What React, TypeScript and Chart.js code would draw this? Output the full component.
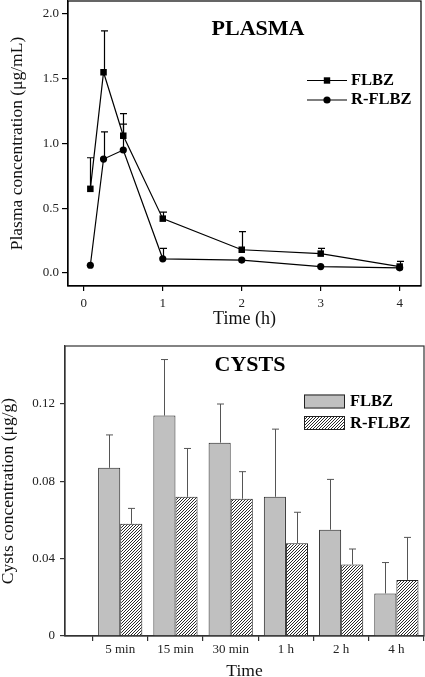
import React, { useEffect, useRef } from 'react';
import { Chart, registerables } from 'chart.js';

Chart.register(...registerables);

// ---------- DATA ----------
const plasmaTimes = [0.083, 0.25, 0.5, 1, 2, 3, 4];
const plasmaFlbz = [0.65, 1.55, 1.06, 0.42, 0.18, 0.15, 0.05];
const plasmaFlbzSd = [0.24, 0.32, 0.17, 0.05, 0.14, 0.04, 0.04];
const plasmaRflbz = [0.06, 0.88, 0.95, 0.11, 0.1, 0.05, 0.04];
const plasmaRflbzSd = [0, 0.21, 0.2, 0.08, 0, 0, 0];
const plasmaXTicks = [0, 1, 2, 3, 4];
const plasmaYTicks = [0, 0.5, 1, 1.5, 2];

const cystCategories = ['5 min', '15 min', '30 min', '1 h', '2 h', '4 h'];
const cystFlbz = [0.087, 0.114, 0.1, 0.072, 0.055, 0.022];
const cystFlbzSd = [0.017, 0.029, 0.02, 0.035, 0.026, 0.016];
const cystRflbz = [0.058, 0.072, 0.071, 0.048, 0.037, 0.029];
const cystRflbzSd = [0.008, 0.025, 0.014, 0.016, 0.008, 0.022];
const cystYTicks = [0, 0.04, 0.08, 0.12];
const cystXTicks = [-1, 0, 1, 2, 3, 4, 5];

const seriesNames = ['FLBZ', 'R-FLBZ'];

// ---------- HELPERS ----------
const serif = "'Liberation Serif', 'Times New Roman', serif";

const fixAxis = (size: number, horizontal: boolean) => (scale: any) => {
  if (horizontal) scale.height = size;
  else scale.width = size;
  scale.paddingTop = 0;
  scale.paddingBottom = 0;
  scale.paddingLeft = 0;
  scale.paddingRight = 0;
};

function makeHatch(): CanvasPattern | string {
  const c = document.createElement('canvas');
  c.width = 3;
  c.height = 3;
  const g = c.getContext('2d');
  if (!g) return '#888';
  g.fillStyle = '#ffffff';
  g.fillRect(0, 0, 3, 3);
  g.strokeStyle = '#111';
  g.lineWidth = 0.9;
  g.beginPath();
  g.moveTo(-1, 4);
  g.lineTo(4, -1);
  g.moveTo(-1, 1);
  g.lineTo(1, -1);
  g.moveTo(2, 4);
  g.lineTo(4, 2);
  g.stroke();
  return g.createPattern(c, 'repeat') || '#888';
}

const errorBarPlugin = {
  id: 'errorBars',
  afterDatasetsDraw(chart: any) {
    const ctx = chart.ctx;
    const yScale = chart.scales.y;
    chart.data.datasets.forEach((ds: any, i: number) => {
      const errs: number[] | undefined = ds.errors;
      if (!errs) return;
      const meta = chart.getDatasetMeta(i);
      ctx.save();
      ctx.strokeStyle = ds.errorColor || '#000';
      ctx.lineWidth = ds.errorWidth || 1;
      const cap = ds.errorCap || 3.5;
      meta.data.forEach((el: any, j: number) => {
        const raw = ds.data[j];
        const v = typeof raw === 'number' ? raw : raw.y;
        const sd = errs[j];
        if (!sd) return;
        const yTop = yScale.getPixelForValue(v + sd);
        const x = Math.round(el.x) + 0.5;
        ctx.beginPath();
        ctx.moveTo(x, el.y);
        ctx.lineTo(x, yTop);
        ctx.moveTo(x - cap, yTop);
        ctx.lineTo(x + cap, yTop);
        ctx.stroke();
      });
      ctx.restore();
    });
  },
};

const decorPlugin = {
  id: 'decor',
  afterDraw(chart: any, _args: any, opts: any) {
    const ctx = chart.ctx;
    const a = chart.chartArea;
    ctx.save();
    // frame
    ctx.strokeStyle = opts.frameColor;
    ctx.lineWidth = opts.frameWidth;
    ctx.strokeRect(a.left, a.top, a.right - a.left, a.bottom - a.top);
    // title
    ctx.fillStyle = '#000';
    ctx.font = `bold 22px ${serif}`;
    ctx.textAlign = 'center';
    ctx.textBaseline = 'middle';
    ctx.fillText(opts.title, opts.titleX, opts.titleY);
    // legend
    const lg = opts.legend;
    chart.data.datasets.forEach((ds: any, i: number) => {
      const y = lg.rows[i];
      if (lg.kind === 'line') {
        ctx.strokeStyle = ds.borderColor;
        ctx.lineWidth = 1.2;
        ctx.beginPath();
        ctx.moveTo(lg.x0, y);
        ctx.lineTo(lg.x1, y);
        ctx.stroke();
        const cx = (lg.x0 + lg.x1) / 2;
        ctx.fillStyle = ds.backgroundColor;
        if (ds.pointStyle === 'rect') {
          ctx.fillRect(cx - 3.2, y - 3.2, 6.4, 6.4);
        } else {
          ctx.beginPath();
          ctx.arc(cx, y, 3.6, 0, Math.PI * 2);
          ctx.fill();
        }
      } else {
        ctx.fillStyle = ds.backgroundColor;
        ctx.fillRect(lg.x0, y - lg.h / 2, lg.x1 - lg.x0, lg.h);
        ctx.strokeStyle = '#222';
        ctx.lineWidth = 1;
        ctx.strokeRect(lg.x0 + 0.5, y - lg.h / 2 + 0.5, lg.x1 - lg.x0 - 1, lg.h - 1);
      }
      ctx.fillStyle = '#000';
      ctx.font = `bold 16.5px ${serif}`;
      ctx.textAlign = 'left';
      ctx.textBaseline = 'middle';
      ctx.fillText(ds.label, lg.textX, lg.textRows[i]);
    });
    ctx.restore();
  },
};

// ---------- CHARTS ----------
function PlasmaChart() {
  const ref = useRef<HTMLCanvasElement | null>(null);
  useEffect(() => {
    if (!ref.current) return;
    const chart = new Chart(ref.current, {
      type: 'line',
      data: {
        datasets: [
          {
            label: seriesNames[0],
            data: plasmaTimes.map((t, i) => ({ x: t, y: plasmaFlbz[i] })),
            borderColor: '#000',
            backgroundColor: '#000',
            borderWidth: 1.2,
            pointStyle: 'rect',
            pointRadius: 4.6,
            pointBorderWidth: 0,
            errors: plasmaFlbzSd,
            errorColor: '#000',
            errorWidth: 1.2,
            errorCap: 3.5,
          } as any,
          {
            label: seriesNames[1],
            data: plasmaTimes.map((t, i) => ({ x: t, y: plasmaRflbz[i] })),
            borderColor: '#000',
            backgroundColor: '#000',
            borderWidth: 1.2,
            pointStyle: 'circle',
            pointRadius: 3.6,
            pointBorderWidth: 0,
            errors: plasmaRflbzSd,
            errorColor: '#000',
            errorWidth: 1.2,
            errorCap: 3.5,
          } as any,
        ],
      },
      options: {
        animation: false,
        responsive: false,
        devicePixelRatio: 1,
        layout: { padding: { left: 0, right: 4, top: 1, bottom: 0 }, autoPadding: false } as any,
        plugins: {
          legend: { display: false },
          tooltip: { enabled: false },
          decor: {
            frameColor: '#000',
            frameWidth: 1.2,
            title: 'PLASMA',
            titleX: 258,
            titleY: 29,
            legend: { kind: 'line', x0: 307, x1: 347, rows: [80.5, 100], textX: 351, textRows: [80.5, 100] },
          },
        } as any,
        scales: {
          x: {
            type: 'linear',
            min: -0.2,
            max: 4.27,
            afterBuildTicks: (s: any) => {
              s.ticks = plasmaXTicks.map((v) => ({ value: v }));
            },
            afterFit: fixAxis(54, true),
            ticks: {
              color: '#222',
              font: { family: serif, size: 13 },
              padding: 5,
              maxRotation: 0,
              callback: (v: any) => String(v),
            },
            grid: { drawOnChartArea: false, drawTicks: true, tickLength: 5, color: '#000', lineWidth: 1.2 },
            border: { display: true, color: '#000', width: 1.2 },
            title: {
              display: true,
              text: 'Time (h)',
              color: '#111',
              font: { family: serif, size: 18, lineHeight: 1 },
              padding: { top: 0, bottom: 11.5 },
            },
          },
          y: {
            type: 'linear',
            min: -0.1,
            max: 2.1,
            afterBuildTicks: (s: any) => {
              s.ticks = plasmaYTicks.map((v) => ({ value: v }));
            },
            afterFit: fixAxis(68, false),
            ticks: {
              color: '#222',
              font: { family: serif, size: 13 },
              padding: 3,
              callback: (v: any) => Number(v).toFixed(1),
            },
            grid: { drawOnChartArea: false, drawTicks: true, tickLength: 6, color: '#000', lineWidth: 1.2 },
            border: { display: true, color: '#000', width: 1.2 },
            title: {
              display: true,
              text: 'Plasma concentration (μg/mL)',
              color: '#111',
              font: { family: serif, size: 17.5, lineHeight: 1 },
              padding: { top: 8.5, bottom: 0 },
            },
          },
        },
      },
      plugins: [errorBarPlugin as any, decorPlugin as any],
    });
    return () => chart.destroy();
  }, []);
  return <canvas ref={ref} width={425} height={340} style={{ position: 'absolute', left: 0, top: 0 }} />;
}

function CystsChart() {
  const ref = useRef<HTMLCanvasElement | null>(null);
  useEffect(() => {
    if (!ref.current) return;
    const hatch = makeHatch();
    const chart = new Chart(ref.current, {
      type: 'bar',
      data: {
        datasets: [
          {
            label: seriesNames[0],
            data: cystCategories.map((_, i) => ({ x: i, y: cystFlbz[i] })),
            backgroundColor: '#c0c0c0',
            borderColor: '#222',
            borderWidth: 1,
            borderSkipped: 'start',
            categoryPercentage: 0.8,
            barPercentage: 1,
            errors: cystFlbzSd,
            errorColor: '#555',
            errorWidth: 1,
            errorCap: 3.5,
          } as any,
          {
            label: seriesNames[1],
            data: cystCategories.map((_, i) => ({ x: i, y: cystRflbz[i] })),
            backgroundColor: hatch,
            borderColor: '#222',
            borderWidth: 1,
            borderSkipped: 'start',
            categoryPercentage: 0.8,
            barPercentage: 1,
            errors: cystRflbzSd,
            errorColor: '#555',
            errorWidth: 1,
            errorCap: 3.5,
          } as any,
        ],
      },
      options: {
        animation: false,
        responsive: false,
        devicePixelRatio: 1,
        layout: { padding: { left: 0, right: 1, top: 6, bottom: 0 }, autoPadding: false } as any,
        plugins: {
          legend: { display: false },
          tooltip: { enabled: false },
          decor: {
            frameColor: '#333',
            frameWidth: 1.2,
            title: 'CYSTS',
            titleX: 250,
            titleY: 25,
            legend: { kind: 'box', x0: 304, x1: 345, h: 14, rows: [61.5, 83], textX: 350, textRows: [61.7, 83.3] },
          },
        } as any,
        scales: {
          x: {
            type: 'linear',
            min: -1,
            max: 5.5,
            offset: false,
            afterBuildTicks: (s: any) => {
              s.ticks = cystXTicks.map((v) => ({ value: v }));
            },
            afterFit: fixAxis(41, true),
            ticks: {
              color: '#222',
              font: { family: serif, size: 13 },
              padding: 1,
              maxRotation: 0,
              autoSkip: false,
              callback: (v: any) => (v >= 0 ? cystCategories[v] : ''),
            },
            grid: { drawOnChartArea: false, drawTicks: true, tickLength: 5, color: '#333', lineWidth: 1.2 },
            border: { display: true, color: '#333', width: 1.2 },
            title: {
              display: true,
              text: 'Time',
              color: '#111',
              font: { family: serif, size: 17.5, lineHeight: 1 },
              padding: { top: 0, bottom: -3 },
            },
          },
          y: {
            type: 'linear',
            min: 0,
            max: 0.15,
            afterBuildTicks: (s: any) => {
              s.ticks = cystYTicks.map((v) => ({ value: v }));
            },
            afterFit: fixAxis(65, false),
            ticks: {
              color: '#222',
              font: { family: serif, size: 13 },
              padding: 5,
              callback: (v: any) => (Number(v) === 0 ? '0' : Number(v).toFixed(2)),
            },
            grid: { drawOnChartArea: false, drawTicks: true, tickLength: 5, color: '#333', lineWidth: 1.2 },
            border: { display: true, color: '#333', width: 1.2 },
            title: {
              display: true,
              text: 'Cysts concentration (μg/g)',
              color: '#111',
              font: { family: serif, size: 17.5, lineHeight: 1 },
              padding: { top: 0, bottom: 0 },
            },
          },
        },
      },
      plugins: [errorBarPlugin as any, decorPlugin as any],
    });
    return () => chart.destroy();
  }, []);
  return <canvas ref={ref} width={425} height={337} style={{ position: 'absolute', left: 0, top: 340 }} />;
}

export default function App() {
  return (
    <div style={{ position: 'fixed', left: 0, top: 0, width: 425, height: 677, background: '#fff', overflow: 'hidden' }}>
      <PlasmaChart />
      <CystsChart />
    </div>
  );
}
